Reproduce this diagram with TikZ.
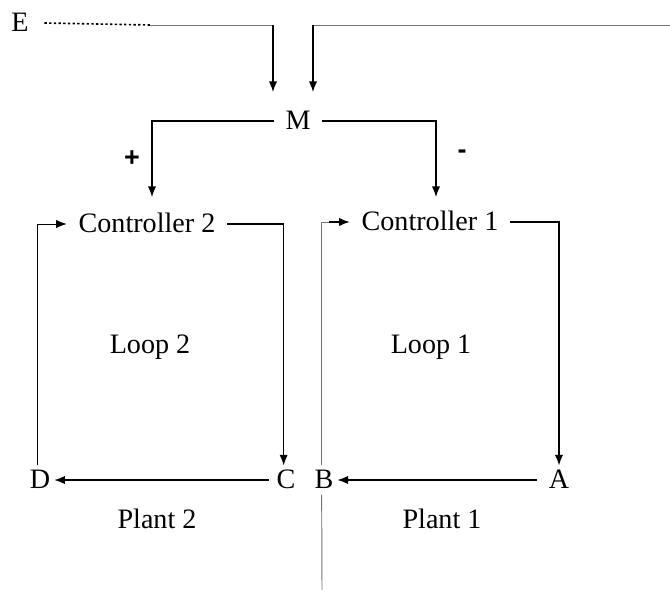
\documentclass[tikz,border=0pt]{standalone}
\usepackage{fontspec}
\setmainfont{Liberation Serif}
\newfontfamily\signfont{Liberation Sans}
\usetikzlibrary{arrows.meta}

\begin{document}
\begin{tikzpicture}[x=0.03cm, y=-0.03cm,
  every node/.style={font=\fontsize{24}{28}\selectfont, text depth=0.2em},
  sig/.style={font=\signfont\bfseries\fontsize{23}{26}\selectfont},
  ctrl/.style={inner xsep=10pt},
  wire/.style={line width=1pt, -{Latex[length=9pt, width=7pt]}},
  thinwire/.style={line width=0.8pt, black!55}]

\useasboundingbox (0,0) rectangle (670,590);

% Eingang und Mischer
\node (E) at (20,23) {E};
\node[inner xsep=10pt] (M) at (298,121) {M};
\node[sig] (plus) at (132,160) {+};
\node[sig] (minus) at (462,155) {-};

% Regler
\node[ctrl] (C2) at (147,224) {Controller 2};
\node[ctrl] (C1) at (430,222) {Controller 1};

% Schleifen
\node (L2) at (150,345) {Loop 2};
\node (L1) at (431,345) {Loop 1};

% Strecken
\node (D) at (40,480) {D};
\node (C) at (286,480) {C};
\node (B) at (324,480) {B};
\node (A) at (559,480) {A};
\node (P2) at (157,520) {Plant 2};
\node (P1) at (442,520) {Plant 1};

% Hilfspunkte
\coordinate (e1) at (150,25);
\coordinate (e2) at (273,25);
\coordinate (m1) at (273,92);
\coordinate (r0) at (670,25);
\coordinate (r1) at (313,25);
\coordinate (m2) at (313,92);
\coordinate (pL) at (152,197);
\coordinate (pR) at (436,197);
\coordinate (bEnd) at (322,590);

% Eingaenge zu M
\draw[line width=1.4pt, dash pattern=on 2pt off 2pt] ([xshift=10pt]E.east) -- (e1);
\draw[thinwire] (e1) -- (e2);
\draw[wire] (e2) -- (m1);
\draw[thinwire] (r0) -- (r1);
\draw[wire] (r1) -- (m2);

% M zu den Reglern
\draw[wire] (M.west) -| (pL);
\draw[wire] (M.east) -| (pR);

% Schleife 2
\draw[wire, line width=0.7pt] ([xshift=-2pt]D.north) |- (C2.west);
\draw[wire] (C2.east) -| ([xshift=-2pt]C.north);
\draw[wire, shorten <=3pt] (C) -- (D);

% Schleife 1
\draw[thinwire] ([xshift=-2pt]B.north) |- ([xshift=-18pt]C1.west);
\draw[wire] ([xshift=-18pt]C1.west) -- (C1.west);
\draw[wire] (C1.east) -| (A.north);
\draw[wire, shorten <=7pt] (A) -- (B);
\draw[thinwire] ([xshift=-2pt]B.south) -- (bEnd);

\end{tikzpicture}
\end{document}
